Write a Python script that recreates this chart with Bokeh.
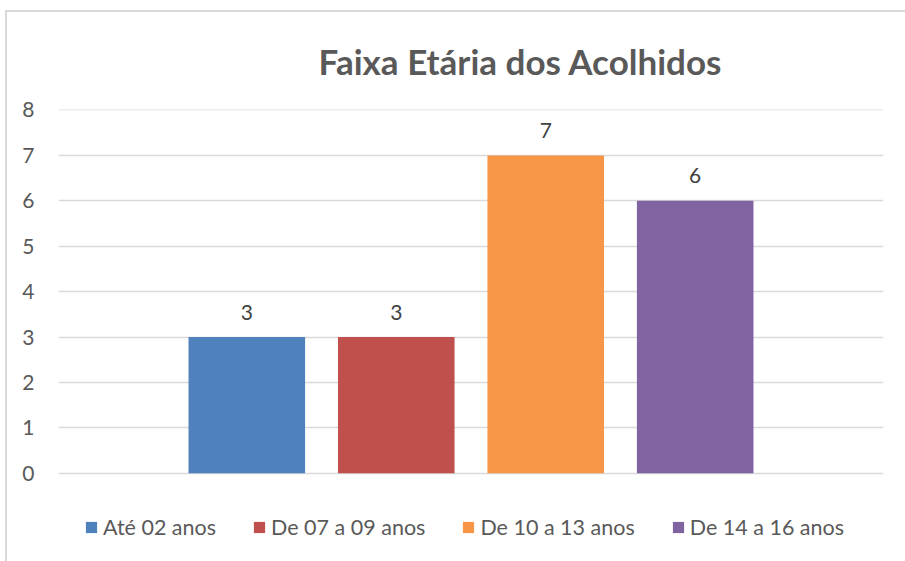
from bokeh.plotting import figure
from bokeh.models import FactorRange, Range1d, ColumnDataSource, Legend, LegendItem, FixedTicker
from bokeh.embed import file_html
from bokeh.resources import INLINE
from bokeh.core.properties import value

categories = ["Até 02 anos", "De 07 a 09 anos", "De 10 a 13 anos", "De 14 a 16 anos"]
counts = [3, 3, 7, 6]
colors = ["#4f81bd", "#c0504d", "#f79646", "#8064a2"]
y_ticks = [0, 1, 2, 3, 4, 5, 6, 7, 8]
title_text = "Faixa Etária dos Acolhidos"

src = ColumnDataSource(dict(cat=categories, count=counts, color=colors,
                            label=[str(c) for c in counts]))

p = figure(width=905, height=561,
           x_range=FactorRange(*categories, range_padding=0.76, range_padding_units="absolute"),
           y_range=Range1d(-1.83, 8.01),
           x_axis_location=None,
           output_backend="svg", toolbar_location=None,
           min_border_left=58, min_border_right=22, min_border_top=109, min_border_bottom=5)

p.outline_line_color = None
p.background_fill_color = "white"
p.border_fill_color = None
# chart-area border (left and top edges), drawn as the plot element's CSS background
p.styles = {
    "background": ("linear-gradient(#d9d9d9, #d9d9d9) 5px 10px / 2px 100% no-repeat, "
                   "linear-gradient(#d9d9d9, #d9d9d9) 5px 10px / 100% 2px no-repeat, white"),
}

p.title.text = title_text
p.title.align = "left"
p.title.offset = 260
p.title.standoff = 56
p.title.text_font = "Lato"
p.title.text_font_style = "bold"
p.title.text_font_size = "35px"
p.title.text_color = "#595959"

p.yaxis.ticker = FixedTicker(ticks=y_ticks)
p.yaxis.axis_line_color = None
p.yaxis.major_tick_line_color = None
p.yaxis.minor_tick_line_color = None
p.yaxis.major_label_text_font = "Lato"
p.yaxis.major_label_text_font_size = "21px"
p.yaxis.major_label_text_color = "#595959"
p.yaxis.major_label_standoff = 18

p.ygrid.grid_line_color = "#d9d9d9"
p.ygrid.grid_line_width = 1.5
p.xgrid.grid_line_color = None

r = p.vbar(x="cat", top="count", width=0.78, color="color", line_color=None, source=src)

p.text(x="cat", y="count", text="label", source=src, text_align="center",
       text_baseline="alphabetic", y_offset=-25, text_font=value("Lato"),
       text_font_size="21px", text_color="#404040")

items = [LegendItem(label=c, renderers=[r], index=i) for i, c in enumerate(categories)]
legend = Legend(items=items, orientation="horizontal", location=(26, 16),
                glyph_width=14, glyph_height=14, label_standoff=5, spacing=36,
                padding=0, margin=0,
                label_text_font="Lato", label_text_font_size="21.5px",
                label_text_color="#595959", border_line_color=None,
                background_fill_alpha=0)
p.add_layout(legend)

open("out.html", "w").write(file_html(p, INLINE))
